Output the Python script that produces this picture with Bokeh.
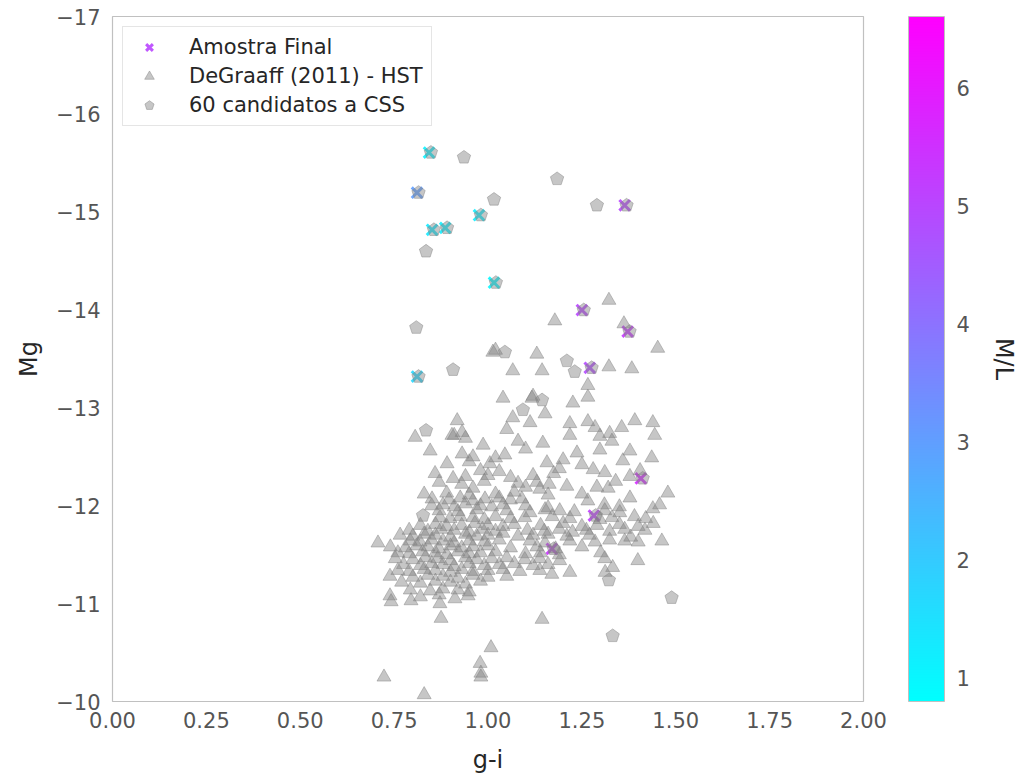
from bokeh.plotting import figure
from bokeh.models import (ColumnDataSource, Range1d, FixedTicker, NumeralTickFormatter,
                          LinearColorMapper, ColorBar, LinearAxis, Legend)
from bokeh.transform import transform
from bokeh.embed import file_html
from bokeh.resources import INLINE

FONT = "DejaVu Sans"

# ---------------- data ----------------
# Amostra Final (g-i, Mg, M/L)
final_gi = [1.364, 0.843, 0.811, 0.851, 0.886, 0.976, 1.016, 1.250, 1.372, 1.271, 0.811, 1.407, 1.282, 1.170]
final_mg = [-15.07, -15.61, -15.20, -14.82, -14.84, -14.97, -14.28, -14.00, -13.78, -13.41, -13.32, -12.28, -11.90, -11.56]
final_ml = [5.0, 1.1, 3.0, 1.3, 1.2, 1.2, 1.0, 5.0, 5.3, 4.9, 1.7, 5.6, 5.2, 5.4]

# 60 candidatos a CSS (visible ones)
cand_gi = [0.936, 1.184, 1.016, 1.290, 0.835, 0.809, 0.907, 1.045, 1.210, 1.231, 0.835, 1.093,
           1.144, 0.827, 1.322, 1.489, 1.332,
           1.369, 0.848, 0.815, 0.856, 0.891, 0.981, 1.021, 1.255, 1.377, 1.276, 0.815, 1.412, 1.287, 1.175]
cand_mg = [-15.56, -15.34, -15.13, -15.07, -14.60, -13.82, -13.39, -13.57, -13.48, -13.37, -12.77, -12.98,
           -13.08, -11.90, -11.24, -11.06, -10.67,
           -15.07, -15.61, -15.20, -14.82, -14.84, -14.97, -14.28, -14.00, -13.78, -13.41, -13.32, -12.28, -11.90, -11.56]

# DeGraaff (2011) - HST
dg_gi = [
    1.178, 1.322, 1.362, 1.452, 1.013, 1.020, 1.130, 1.066, 1.144, 1.322, 1.383, 1.266,
    1.040, 1.117, 1.266, 1.226, 1.120, 1.066, 1.152, 0.918, 1.112, 1.218, 1.266, 1.391, 1.439, 1.285, 1.356, 1.050,
    0.931, 0.904, 1.324, 0.910, 1.218, 0.806, 0.940, 1.298, 1.330, 1.444, 0.987, 1.146, 1.080, 0.846, 0.931, 1.100, 1.237, 1.298, 1.378,
    0.960, 1.020, 1.045, 1.436, 1.200, 0.891, 0.950, 1.005, 1.157, 1.250, 1.359, 0.859, 0.980, 1.030, 1.190, 1.280, 1.311, 1.405, 1.175,
    0.907, 0.940, 1.000, 1.060, 1.120, 1.378, 0.870, 0.930, 0.990, 1.080, 1.130, 1.163, 1.340, 0.960, 1.100, 1.138, 1.210, 1.290, 1.320,
    0.830, 0.890, 0.950, 1.020, 1.070, 1.160, 1.479, 1.250, 0.851, 0.896, 0.926, 0.960, 0.992, 1.030, 1.060, 1.090, 1.266, 1.378,
    0.850, 0.880, 0.910, 0.940, 0.980, 1.010, 1.040, 1.100, 1.160, 1.310, 1.350, 1.457, 0.870, 0.920, 0.970, 1.050, 1.112, 1.152, 1.191, 1.230, 1.311, 1.351, 1.439,
    0.872, 0.899, 0.926, 0.960, 0.990, 1.020, 1.060, 1.098, 1.171, 1.218, 1.298, 1.330, 1.390, 1.420,
    0.820, 0.860, 0.890, 0.930, 0.965, 1.000, 1.040, 1.070, 1.140, 1.200, 1.250, 1.290, 1.350, 1.400, 1.440,
    0.790, 0.840, 0.875, 0.910, 0.950, 0.985, 1.020, 1.105, 1.150, 1.190, 1.225, 1.262, 1.324, 1.364, 1.418,
    0.766, 0.800, 0.830, 0.860, 0.900, 0.940, 0.970, 1.000, 1.040, 1.080, 1.120, 1.160, 1.210, 1.270, 1.380, 1.463,
    0.707, 0.793, 0.819, 0.850, 0.880, 0.910, 0.950, 0.990, 1.030, 1.112, 1.152, 1.218, 1.285, 1.324, 1.364, 1.400,
    0.740, 0.780, 0.810, 0.840, 0.870, 0.900, 0.930, 0.960, 1.000, 1.060, 1.130, 1.180, 1.250,
    0.760, 0.790, 0.826, 0.860, 0.890, 0.920, 0.950, 0.980, 1.020, 1.100, 1.140, 1.190, 1.300,
    0.753, 0.800, 0.833, 0.866, 0.900, 0.940, 0.970, 1.010, 1.050, 1.098, 1.138, 1.191, 1.311, 1.399,
    0.775, 0.820, 0.850, 0.880, 0.910, 0.950, 0.990, 1.030, 1.070, 1.120, 1.160,
    0.760, 0.790, 0.830, 0.860, 0.900, 0.930, 0.960, 1.000, 1.040, 1.085, 1.138, 1.218, 1.332,
    0.739, 0.800, 0.840, 0.880, 0.920, 0.960, 1.000, 1.050, 1.170, 1.312,
    0.770, 0.820, 0.860, 0.900, 0.940, 0.980, 0.793, 0.846, 0.880, 0.920, 0.950, 0.739, 0.820, 0.870, 0.912, 0.947, 0.742, 0.795, 0.872,
    0.875, 1.144, 1.008, 0.979, 0.981, 0.981, 0.723, 0.830,
]
dg_mg = [
    -13.89, -14.10, -13.86, -13.61, -13.57, -13.59, -13.55, -13.38, -13.38, -13.42, -13.40, -13.23,
    -13.10, -13.10, -13.11, -13.05, -13.12, -12.90, -12.94, -12.87, -12.85, -12.84, -12.86, -12.87, -12.85, -12.80, -12.80, -12.78,
    -12.75, -12.72, -12.74, -12.72, -12.72, -12.70, -12.69, -12.71, -12.66, -12.72, -12.62, -12.64, -12.66, -12.56, -12.53, -12.58, -12.54, -12.57, -12.56,
    -12.50, -12.49, -12.52, -12.49, -12.47, -12.43, -12.45, -12.43, -12.44, -12.42, -12.46, -12.33, -12.36, -12.35, -12.38, -12.37, -12.34, -12.36, -12.33,
    -12.28, -12.30, -12.31, -12.29, -12.31, -12.30, -12.24, -12.22, -12.25, -12.23, -12.24, -12.22, -12.25, -12.18, -12.19, -12.17, -12.20, -12.19, -12.18,
    -12.12, -12.13, -12.11, -12.12, -12.14, -12.11, -12.13, -12.12, -12.07, -12.06, -12.08, -12.05, -12.07, -12.08, -12.06, -12.07, -12.05, -12.08,
    -12.00, -12.01, -11.99, -12.02, -12.00, -11.99, -12.01, -12.00, -11.98, -12.01, -11.99, -12.01, -11.95, -11.94, -11.96, -11.95, -11.93, -11.96, -11.95, -11.94, -11.95, -11.93, -11.97,
    -11.88, -11.87, -11.89, -11.88, -11.86, -11.89, -11.87, -11.88, -11.89, -11.87, -11.86, -11.88, -11.89, -11.87,
    -11.80, -11.81, -11.79, -11.80, -11.82, -11.80, -11.79, -11.81, -11.80, -11.82, -11.79, -11.80, -11.81, -11.79, -11.82,
    -11.75, -11.74, -11.76, -11.75, -11.73, -11.76, -11.74, -11.75, -11.74, -11.76, -11.73, -11.75, -11.74, -11.76, -11.75,
    -11.70, -11.69, -11.71, -11.70, -11.68, -11.71, -11.69, -11.70, -11.72, -11.69, -11.70, -11.71, -11.69, -11.70, -11.68, -11.64,
    -11.62, -11.64, -11.63, -11.65, -11.64, -11.62, -11.64, -11.63, -11.65, -11.64, -11.62, -11.64, -11.63, -11.65, -11.64, -11.63,
    -11.58, -11.57, -11.59, -11.58, -11.56, -11.59, -11.57, -11.58, -11.59, -11.57, -11.58, -11.56, -11.58,
    -11.52, -11.51, -11.53, -11.52, -11.50, -11.53, -11.51, -11.52, -11.53, -11.51, -11.52, -11.50, -11.52,
    -11.46, -11.45, -11.47, -11.46, -11.44, -11.47, -11.45, -11.46, -11.47, -11.45, -11.46, -11.44, -11.46, -11.44,
    -11.40, -11.39, -11.41, -11.40, -11.38, -11.41, -11.39, -11.40, -11.41, -11.39, -11.40,
    -11.34, -11.33, -11.35, -11.34, -11.32, -11.35, -11.33, -11.34, -11.35, -11.33, -11.34, -11.32, -11.37,
    -11.28, -11.27, -11.29, -11.28, -11.26, -11.29, -11.27, -11.28, -11.30, -11.32,
    -11.22, -11.21, -11.23, -11.22, -11.20, -11.23, -11.14, -11.13, -11.15, -11.14, -11.12, -11.08, -11.07, -11.09, -11.05, -11.08, -11.02, -11.03, -11.00,
    -10.85, -10.84, -10.55, -10.39, -10.29, -10.25, -10.25, -10.07,
]

x_ticks = [0.0, 0.25, 0.5, 0.75, 1.0, 1.25, 1.5, 1.75, 2.0]
y_ticks = [-17, -16, -15, -14, -13, -12, -11, -10]
cb_ticks = [1, 2, 3, 4, 5, 6]
ml_low, ml_high = 0.80, 6.61

legend_labels = ["Amostra Final", "DeGraaff (2011) - HST", "60 candidatos a CSS"]

# 'cool' colormap
cool = []
for i in range(256):
    t = i / 255
    cool.append("#%02x%02x%02x" % (int(round(255 * t)), int(round(255 * (1 - t))), 255))

# ---------------- figure ----------------
p = figure(width=1020, height=780, output_backend="svg", toolbar_location=None,
           x_range=Range1d(0, 2), y_range=Range1d(-10, -17),
           min_border_left=112, min_border_right=156, min_border_top=16, min_border_bottom=79)
p.xgrid.visible = False
p.ygrid.visible = False
p.outline_line_color = "#c0c0c0"
p.outline_line_width = 1.2
p.background_fill_color = "white"
p.border_fill_color = "white"

for ax in (p.xaxis[0], p.yaxis[0]):
    ax.axis_line_color = None
    ax.major_tick_line_color = None
    ax.minor_tick_line_color = None
    ax.major_tick_out = 0
    ax.major_tick_in = 0
    ax.major_label_text_font = FONT
    ax.major_label_text_font_size = "21px"
    ax.major_label_text_color = "#555555"
    ax.axis_label_text_font = FONT
    ax.axis_label_text_font_size = "24px"
    ax.axis_label_text_font_style = "normal"
    ax.axis_label_text_color = "#262626"

p.xaxis.ticker = FixedTicker(ticks=x_ticks)
p.xaxis.formatter = NumeralTickFormatter(format="0.00")
p.xaxis.axis_label = "g-i"
p.xaxis.major_label_standoff = 10
p.xaxis.axis_label_standoff = 15

p.yaxis.ticker = FixedTicker(ticks=y_ticks)
p.yaxis.major_label_overrides = {v: "\u2212" + str(abs(v)) for v in y_ticks}
p.yaxis.axis_label = "Mg"
p.yaxis.major_label_standoff = 12
p.yaxis.axis_label_standoff = 10

mapper = LinearColorMapper(palette=cool, low=ml_low, high=ml_high)

src_final = ColumnDataSource(dict(x=final_gi, y=final_mg, ml=final_ml))
r_final = p.scatter("x", "y", source=src_final, marker="x", size=15, line_width=3,
                    line_color=transform("ml", mapper), line_alpha=0.9)

src_dg = ColumnDataSource(dict(x=dg_gi, y=dg_mg))
r_dg = p.scatter("x", "y", source=src_dg, marker="triangle", size=14,
                 fill_color="#808080", line_color="#808080", fill_alpha=0.45, line_alpha=0.45)

src_c = ColumnDataSource(dict(x=cand_gi, y=cand_mg))
r_c = p.ngon("x", "y", source=src_c, radius=7, radius_units="screen", n=5, angle=0,
             fill_color="#808080", line_color="#808080", fill_alpha=0.45, line_alpha=0.45)

legend = Legend(items=[(legend_labels[0], [r_final]), (legend_labels[1], [r_dg]), (legend_labels[2], [r_c])],
                location="top_left")
legend.label_text_font = FONT
legend.label_text_font_size = "21px"
legend.label_text_color = "#262626"
legend.border_line_color = "#cccccc"
legend.border_line_width = 1
legend.background_fill_alpha = 0.8
legend.padding = 8
legend.spacing = 5
legend.glyph_width = 36
legend.glyph_height = 24
legend.label_standoff = 22
legend.margin = 10
p.add_layout(legend)

spacer = LinearAxis(ticker=FixedTicker(ticks=[]), axis_line_color=None,
                    major_tick_line_color=None, minor_tick_line_color=None,
                    major_label_text_font_size="0px", axis_label=".",
                    axis_label_text_color=None, axis_label_text_font_size="10px",
                    axis_label_standoff=34)
p.add_layout(spacer, "right")

cb = ColorBar(color_mapper=mapper, ticker=FixedTicker(ticks=cb_ticks), width=36,
              padding=0, margin=0, major_tick_line_color=None, minor_tick_line_color=None,
              bar_line_color="#c0c0c0", major_label_text_font=FONT,
              major_label_text_font_size="21px", major_label_text_color="#555555",
              label_standoff=12)
p.add_layout(cb, "right")

ml_axis = LinearAxis(axis_label="M/L", ticker=FixedTicker(ticks=[]), axis_line_color=None,
                     major_tick_line_color=None, minor_tick_line_color=None,
                     major_label_text_font_size="0px", axis_label_text_font=FONT,
                     axis_label_text_font_size="24px", axis_label_text_font_style="normal",
                     axis_label_text_color="#262626", axis_label_standoff=17)
p.add_layout(ml_axis, "right")

open("out.html", "w").write(file_html(p, INLINE))
